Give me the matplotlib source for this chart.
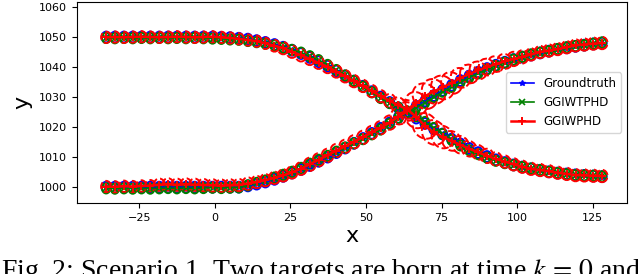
import matplotlib
matplotlib.use('Agg')
import matplotlib.pyplot as plt
from matplotlib.patches import Ellipse
import numpy as np

# time steps (x position of each target)
x_pos = [-36.0, -33.1, -30.1, -27.2, -24.3, -21.4, -18.4, -15.5, -12.6, -9.6,
         -6.7, -3.8, -0.8, 2.1, 5.0, 7.9, 10.9, 13.8, 16.7, 19.7,
         22.6, 25.5, 28.5, 31.4, 34.3, 37.3, 40.2, 43.1, 46.0, 49.0,
         51.9, 54.8, 57.8, 60.7, 63.6, 66.6, 69.5, 72.4, 75.3, 78.3,
         81.2, 84.1, 87.1, 90.0, 92.9, 95.9, 98.8, 101.7, 104.6, 107.6,
         110.5, 113.4, 116.4, 119.3, 122.2, 125.2, 128.1]

# groundtruth y of target 1 (top start) and target 2 (bottom start)
gt_y1 = [1050.0, 1050.0, 1050.0, 1050.0, 1050.0, 1050.0, 1050.0, 1050.0, 1050.0, 1050.0,
         1050.0, 1050.0, 1050.0, 1049.9, 1049.8, 1049.6, 1049.3, 1048.8, 1048.2, 1047.5,
         1046.6, 1045.6, 1044.5, 1043.2, 1041.8, 1040.3, 1038.7, 1037.0, 1035.3, 1033.6,
         1031.8, 1030.0, 1028.2, 1026.4, 1024.7, 1023.0, 1021.2, 1019.4, 1017.7, 1016.0,
         1014.4, 1012.9, 1011.5, 1010.2, 1009.1, 1008.2, 1007.4, 1006.7, 1006.1, 1005.6,
         1005.1, 1004.7, 1004.4, 1004.1, 1003.9, 1003.7, 1003.5]
gt_y2 = [1000.0, 1000.0, 1000.0, 1000.0, 1000.0, 1000.0, 1000.0, 1000.0, 1000.0, 1000.0,
         1000.0, 1000.0, 1000.0, 1000.0, 1000.0, 1000.0, 1000.4, 1001.0, 1001.7, 1002.6,
         1003.6, 1004.7, 1005.9, 1007.2, 1008.6, 1010.0, 1011.5, 1013.0, 1014.6, 1016.2,
         1017.9, 1019.6, 1021.4, 1023.2, 1025.0, 1026.9, 1028.7, 1030.5, 1032.2, 1033.9,
         1035.5, 1037.0, 1038.3, 1039.5, 1040.6, 1041.6, 1042.5, 1043.3, 1044.0, 1044.7,
         1045.3, 1045.9, 1046.4, 1046.9, 1047.3, 1047.7, 1048.0]

# estimate offsets from groundtruth (y)
tphd_dy1 = [-0.3, -0.4, -0.3, -0.4, -0.3, -0.4, -0.3, -0.4, -0.3, -0.4,
            -0.3, -0.4, -0.5, -0.5, -0.6, -0.5, -0.6, -0.5, -0.4, -0.3,
            -0.2, 0.1, 0.3, 0.4, 0.5, 0.4, 0.3, 0.2, 0.1, -0.1,
            -0.2, -0.3, -0.2, 0.1, 0.4, 0.6, 0.5, 0.3, 0.0, -0.3,
            -0.5, -0.6, -0.5, -0.4, -0.3, -0.2, -0.1, 0.0, 0.1, 0.1,
            0.0, 0.0, -0.1, -0.1, 0.0, 0.1, 0.1]
tphd_dy2 = [-0.4, -0.5, -0.4, -0.5, -0.4, -0.5, -0.4, -0.3, -0.4, -0.3,
            -0.4, -0.3, -0.2, -0.3, -0.2, -0.1, 0.2, 0.4, 0.5, 0.6,
            0.5, 0.4, 0.5, 0.6, 0.5, 0.4, 0.3, 0.2, 0.0, -0.2,
            -0.3, -0.4, -0.3, -0.1, 0.2, -0.4, -0.6, -0.5, -0.4, -0.5,
            -0.6, -0.5, -0.4, -0.3, -0.2, -0.1, 0.0, 0.1, 0.2, 0.1,
            0.0, 0.1, 0.2, 0.1, 0.0, 0.1, 0.2]
phd_dy1 = [-0.1, 0.0, -0.1, 0.0, 0.1, 0.0, -0.1, 0.0, 0.1, 0.0,
           -0.1, 0.0, 0.1, 0.0, -0.1, -0.2, -0.3, -0.2, -0.3, -0.4,
           -0.3, -0.5, -0.6, -0.5, -0.4, -0.3, -0.2, -0.1, 0.0, 0.1,
           0.2, 0.3, 0.6, 0.9, 1.2, 0.4, -0.8, -1.2, -1.0, -0.6,
           -0.3, -0.1, 0.1, 0.2, 0.3, 0.3, 0.2, 0.1, 0.0, 0.1,
           0.2, 0.1, 0.0, -0.1, 0.0, 0.1, 0.2]
phd_dy2 = [0.2, 0.1, 0.3, 0.2, 0.4, 0.5, 0.8, 0.9, 0.8, 0.9,
           0.8, 0.7, 0.6, 0.5, 0.6, 0.7, 0.8, 0.7, 0.6, 0.5,
           0.3, 0.2, 0.3, 0.4, 0.5, 0.6, 0.7, 0.6, 0.5, 0.4,
           0.3, 0.2, 0.1, 0.3, 0.2, 1.0, 1.6, 1.4, 1.0, 0.8,
           0.9, 0.7, 0.6, 0.5, 0.4, 0.3, 0.2, 0.1, 0.2, 0.3,
           0.2, 0.1, 0.2, 0.3, 0.2, 0.1, 0.0]

# extent scale of GGIWPHD ellipses (relative to groundtruth extent)
phd_ext1 = [1.1, 1.1, 1.1, 1.1, 1.1, 1.1, 1.1, 1.1, 1.1, 1.1,
            1.1, 1.1, 1.1, 1.1, 1.1, 1.1, 1.1, 1.1, 1.1, 1.15,
            1.2, 1.2, 1.2, 1.2, 1.2, 1.2, 1.2, 1.2, 1.2, 1.2,
            1.2, 1.2, 1.3, 1.6, 1.9, 2.3, 2.6, 2.5, 2.3, 2.0,
            1.8, 1.6, 1.5, 1.4, 1.3, 1.2, 1.2, 1.2, 1.2, 1.2,
            1.2, 1.2, 1.2, 1.2, 1.2, 1.2, 1.2]
phd_ext2 = [1.1, 1.1, 1.1, 1.1, 1.1, 1.1, 1.2, 1.2, 1.2, 1.2,
            1.2, 1.2, 1.2, 1.2, 1.2, 1.2, 1.2, 1.2, 1.2, 1.2,
            1.2, 1.2, 1.25, 1.3, 1.3, 1.3, 1.3, 1.3, 1.3, 1.3,
            1.3, 1.3, 1.4, 1.6, 1.9, 2.3, 2.6, 2.5, 2.4, 2.2,
            2.0, 1.9, 1.8, 1.7, 1.6, 1.5, 1.4, 1.3, 1.2, 1.2,
            1.2, 1.2, 1.2, 1.2, 1.2, 1.2, 1.2]

x_ticks = [-25, 0, 25, 50, 75, 100, 125]
y_ticks = [1000, 1010, 1020, 1030, 1040, 1050, 1060]
caption = 'Fig. 2: Scenario 1. Two targets are born at time $k\\,=\\,0$ and'

ext_w, ext_h = 3.0, 3.6

xs = np.array(x_pos, dtype=float)
tracks = {
    'gt': [np.array(gt_y1), np.array(gt_y2)],
    'tphd': [np.array(gt_y1) + np.array(tphd_dy1), np.array(gt_y2) + np.array(tphd_dy2)],
    'phd': [np.array(gt_y1) + np.array(phd_dy1), np.array(gt_y2) + np.array(phd_dy2)],
}

fig = plt.figure(figsize=(6.4, 2.74), dpi=100)
ax = fig.add_axes([0.120, 0.259, 0.860, 0.734])

# ellipses
for ys in tracks['gt']:
    for xc, yc in zip(xs, ys):
        ax.add_patch(Ellipse((xc, yc), ext_w, ext_h, fill=False, ec='blue', lw=1.4, zorder=2))
for ys in tracks['tphd']:
    for xc, yc in zip(xs, ys):
        ax.add_patch(Ellipse((xc, yc), ext_w * 0.92, ext_h * 0.95, fill=False, ec='green', lw=1.4, zorder=2))
for ys, sc in zip(tracks['phd'], [phd_ext1, phd_ext2]):
    for i, (xc, yc) in enumerate(zip(xs, ys)):
        s = sc[i]
        ang = 35 if s > 1.4 else 0
        ax.add_patch(Ellipse((xc, yc), ext_w * s, ext_h * s * 0.95, angle=ang, fill=False,
                             ec='red', lw=1.4, ls='--', zorder=2))

# tracks
for k, ys in enumerate(tracks['gt']):
    ax.plot(xs, ys, color='blue', marker='*', ms=4, lw=1.2, zorder=3,
            label='Groundtruth' if k == 0 else None)
for k, ys in enumerate(tracks['tphd']):
    ax.plot(xs, ys, color='green', marker='x', ms=4, mew=1.2, lw=1.2, zorder=3,
            label='GGIWTPHD' if k == 0 else None)
for k, ys in enumerate(tracks['phd']):
    ax.plot(xs, ys, color='red', marker='+', ms=6, mew=1.4, lw=1.8, zorder=4,
            label='GGIWPHD' if k == 0 else None)

ax.set_xlim(-45.7, 136.4)
ax.set_ylim(994.7, 1061.7)
ax.set_xticks(x_ticks)
ax.set_yticks(y_ticks)
ax.tick_params(labelsize=8)
ax.set_xlabel('x', fontsize=16, labelpad=2)
ax.set_ylabel('y', fontsize=16, labelpad=5)
ax.legend(loc='center right', fontsize=8.5)

fig.text(0.002, -0.016, caption, fontsize=20, family='Liberation Serif',
         math_fontfamily='stix', ha='left', va='baseline')

fig.savefig('out.png', dpi=100)
